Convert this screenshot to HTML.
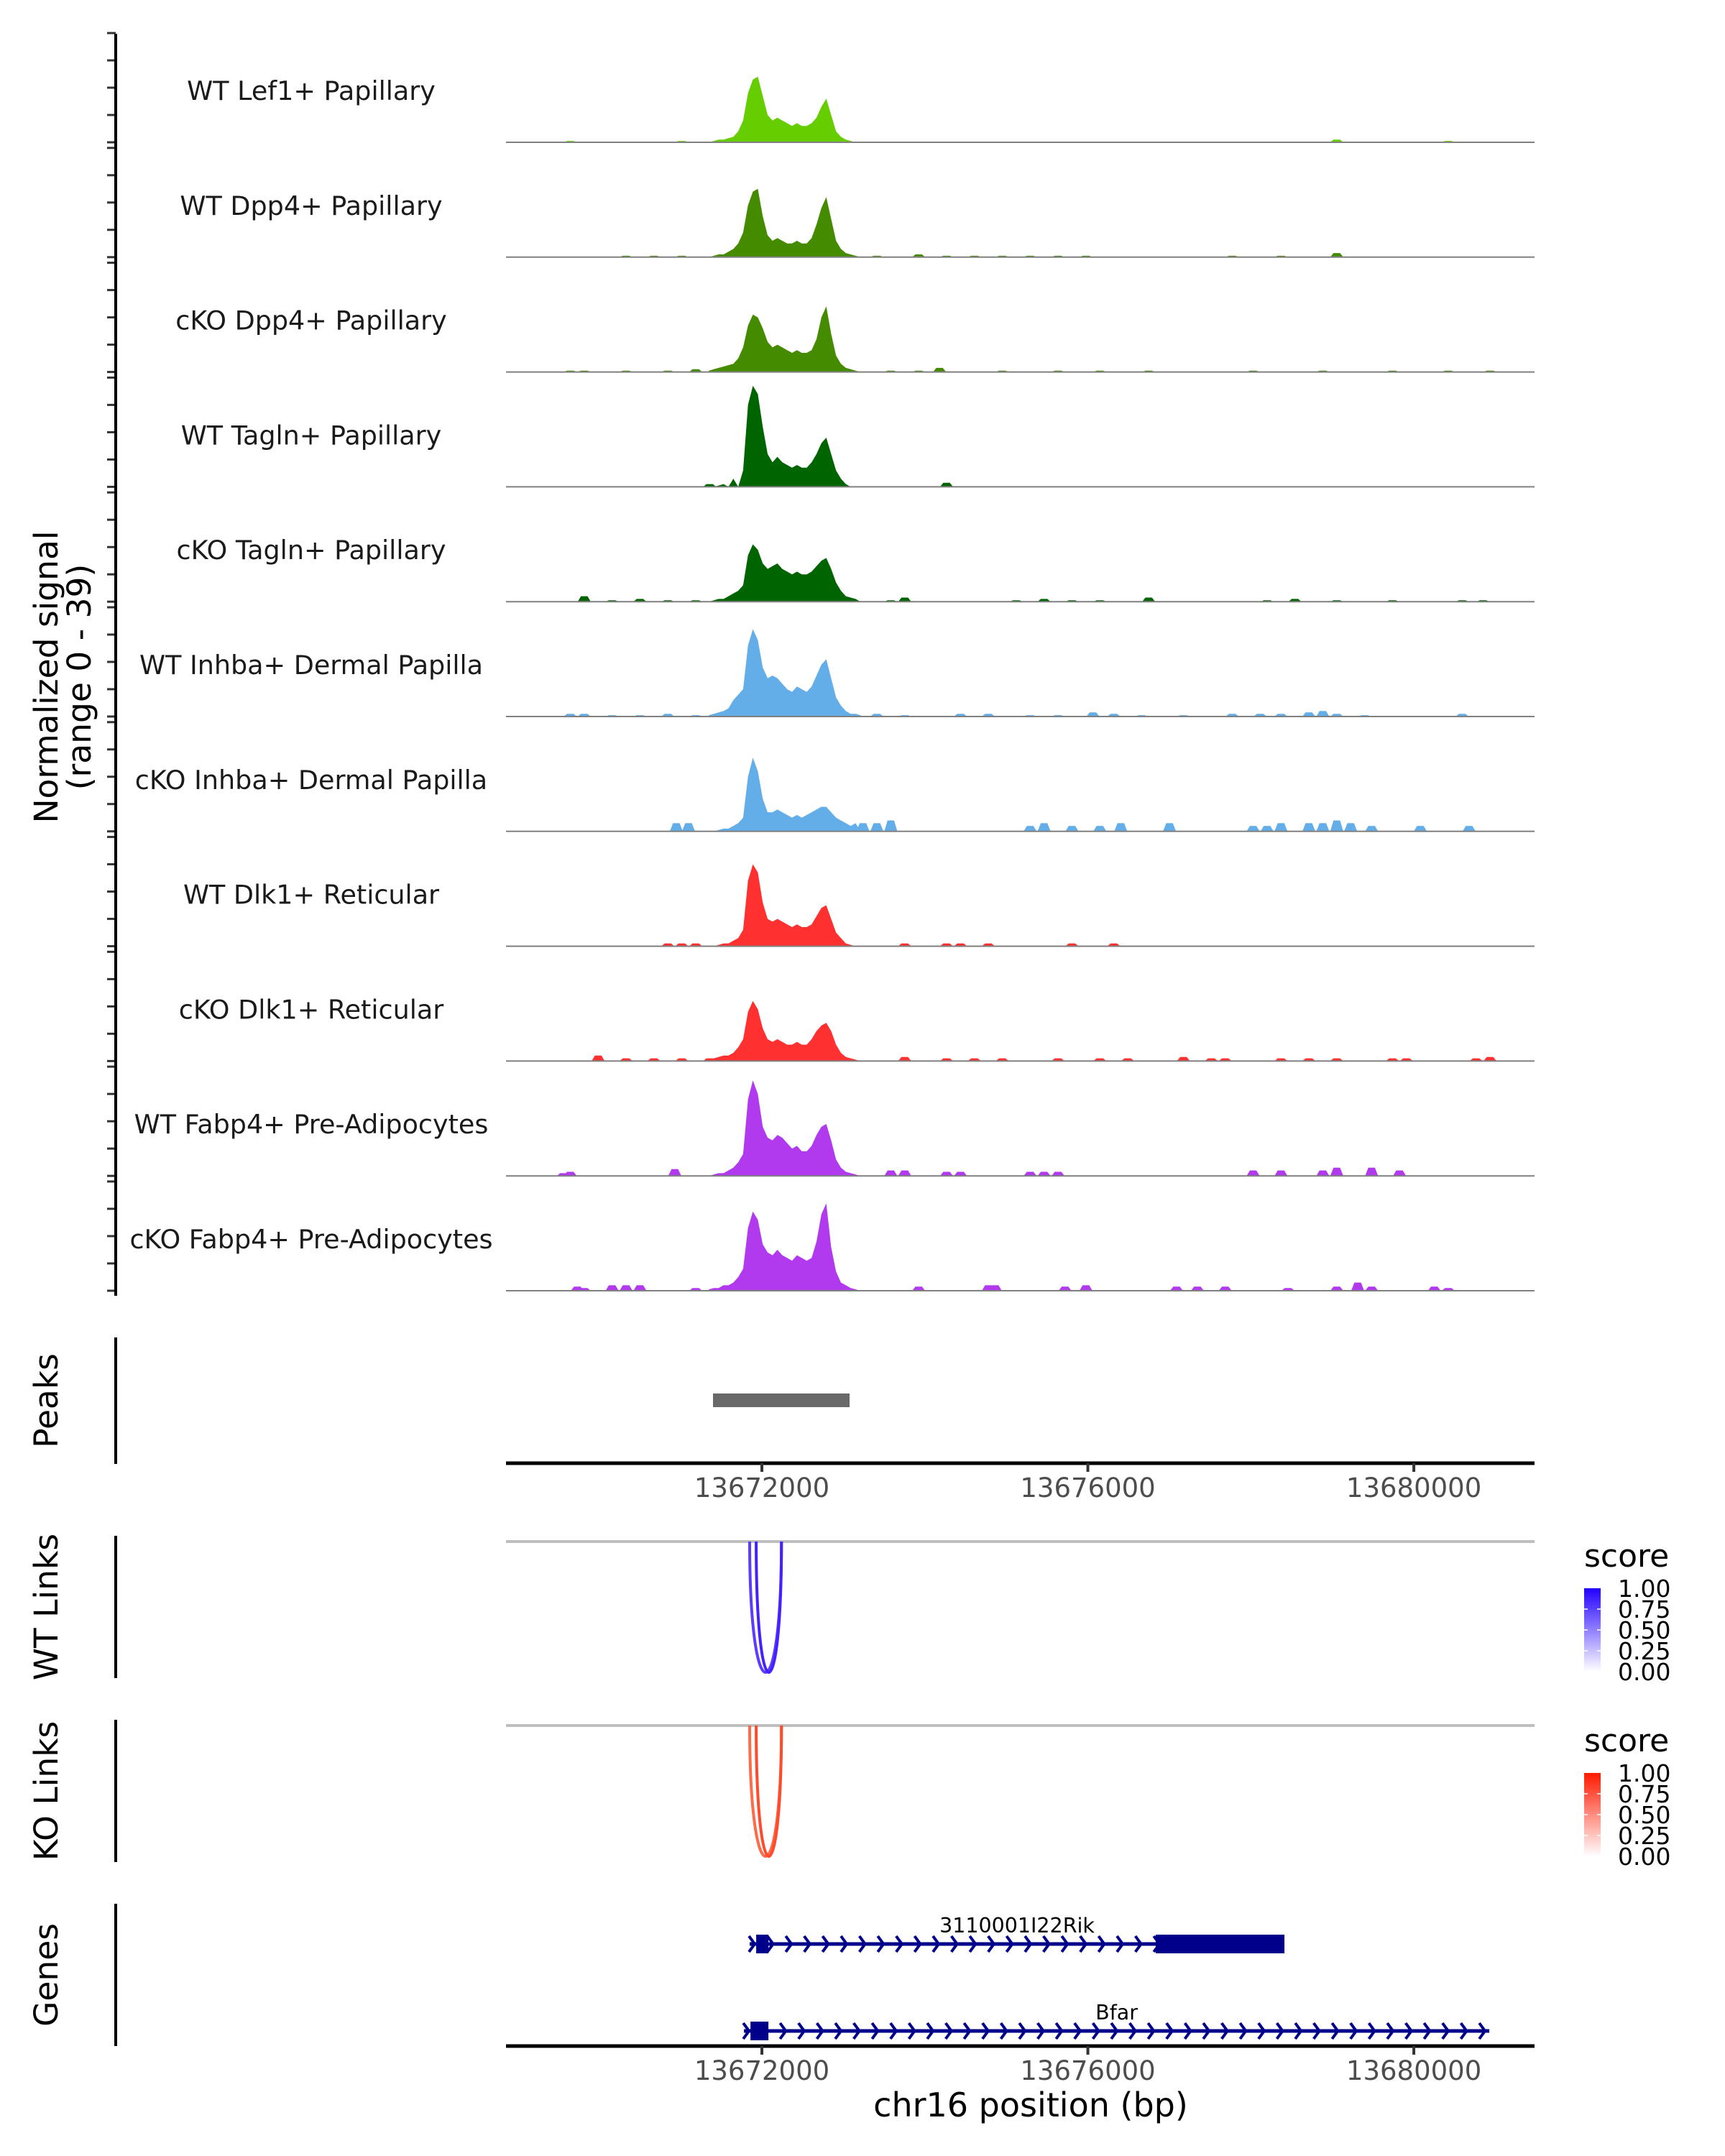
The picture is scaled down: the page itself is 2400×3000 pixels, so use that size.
<!DOCTYPE html>
<html><head><meta charset="utf-8"><style>
html,body{margin:0;padding:0;background:#fff;}
svg{display:block;font-family:"DejaVu Sans","Liberation Sans",sans-serif;}
</style></head><body>
<svg id="chart" width="2400" height="3000" viewBox="0 0 2400 3000" xmlns="http://www.w3.org/2000/svg">
<rect width="2400" height="3000" fill="#fff"/>
</svg>
<script>
// ---------- data ----------
const trackNames = ["WT Lef1+ Papillary","WT Dpp4+ Papillary","cKO Dpp4+ Papillary","WT Tagln+ Papillary","cKO Tagln+ Papillary","WT Inhba+ Dermal Papilla","cKO Inhba+ Dermal Papilla","WT Dlk1+ Reticular","cKO Dlk1+ Reticular","WT Fabp4+ Pre-Adipocytes","cKO Fabp4+ Pre-Adipocytes"];
const trackColors = ["#66cd00","#458b00","#458b00","#006400","#006400","#63ade9","#63ade9","#ff3030","#ff3030","#b23aee","#b23aee"];
const corePositions = [13671350,13671410,13671470,13671530,13671590,13671650,13671710,13671770,13671830,13671890,13671950,13672010,13672070,13672130,13672190,13672250,13672310,13672370,13672430,13672490,13672550,13672610,13672670,13672730,13672790,13672850,13672910,13672970,13673030,13673090,13673150,13673210];
const coreT1 = [0,0.5,1,1,1.5,2,4,8,18,23,24,17,10,8,9,8,7,6,7,6,6,7,9,13,16,10,4,2,1,0.5,0,0];
const coreT2 = [0,0.5,1,1,2,3,5,9,19,24,25,15,8,6,7,6,5,5,6,5,5,7,12,18,22,14,6,3,1.5,1,0.5,0];
const coreT3 = [0.5,1,1.5,2,2.5,3,5,9,17,21,20,16,11,9,10,9,8,7,8,7,7,8,12,20,24,14,6,3,1.5,1,0.5,0];
const coreT4 = [0,0,0.5,1,0,3,0,6,30,37,34,22,12,9,11,9,8,7,8,7,7,9,12,16,18,12,6,3,1,0,0,0];
const coreT5 = [0,0.5,1,1,2,3,4,6,17,21,19,14,12,13,14,12,11,10,11,10,10,11,13,15,16,12,7,4,2,1.5,1,0];
const coreT6 = [0.5,1,1.5,2,3,6,8,10,26,32,28,18,14,15,14,12,10,9,11,10,9,11,15,19,21,14,7,4,2,1,1,0.5];
const coreT7 = [0,0,0.5,1,1,2,3,5,20,27,22,12,7,7,8,7,6,5,6,5,6,7,8,9,9,7,5,4,3,2,3,0];
const coreT8 = [0,0,0.5,1,1,2,3,6,24,30,27,16,10,9,10,9,8,7,8,7,7,8,11,14,15,10,5,3,1,0.5,0,0];
const coreT9 = [0.5,1,1.5,2,2,3,5,8,18,22,19,12,8,7,8,7,6,6,7,6,6,8,11,13,14,11,6,3,1.5,1,0.5,0];
const coreT10 = [0,0.5,1,1,2,3,5,8,28,35,30,18,14,13,15,14,12,10,11,9,9,11,15,18,19,13,6,3,1.5,1,0.5,0];
const coreT11 = [0.5,1,1,2,2,3,5,8,23,29,26,17,14,13,15,13,12,11,13,12,11,12,18,28,32,16,7,3,2,1,0.5,0];
const coreValues = [coreT1,coreT2,coreT3,coreT4,coreT5,coreT6,coreT7,coreT8,coreT9,coreT10,coreT11];
const bumpsT1 = [[13669650,0.5],[13671017,0.5],[13679054,1],[13680422,0.5]];
const bumpsT2 = [[13670333,0.5],[13670675,0.5],[13671017,0.5],[13671701,1],[13673411,0.5],[13673924,1],[13674266,0.5],[13674608,0.5],[13674950,0.5],[13675292,0.5],[13675634,0.5],[13675976,0.5],[13677772,0.5],[13678370,0.5],[13679054,1.5]];
const bumpsT3 = [[13669649,0.5],[13669820,0.5],[13670333,0.5],[13670846,0.5],[13671188,1],[13671530,1],[13673582,0.5],[13673924,0.5],[13674180,1.5],[13674950,0.5],[13675634,0.5],[13676147,0.5],[13676746,0.5],[13678028,0.5],[13678883,0.5],[13679738,0.5],[13680422,0.5],[13680935,0.5]];
const bumpsT4 = [[13671359,1],[13674266,1.5]];
const bumpsT5 = [[13669820,2],[13670162,0.5],[13670504,1],[13670846,0.5],[13671188,0.5],[13673582,0.5],[13673753,1.5],[13675121,0.5],[13675463,1],[13675805,0.5],[13676147,0.5],[13676746,1.5],[13678199,0.5],[13678541,1],[13679054,0.5],[13679738,0.5],[13680593,0.5],[13680849,0.5]];
const bumpsT6 = [[13669649,1],[13669820,1],[13670162,0.5],[13670504,0.5],[13670846,1],[13671188,0.5],[13673411,1],[13673753,0.5],[13674437,1],[13674779,1],[13675292,0.5],[13675634,0.5],[13676062,1.5],[13676318,1],[13676660,0.5],[13677173,0.5],[13677772,1],[13678114,1],[13678370,1],[13678712,1.5],[13678883,2],[13679054,1],[13679396,0.5],[13680593,1]];
const bumpsT7 = [[13670950,3],[13671100,3],[13673240,3],[13673411,3],[13673582,4],[13675292,2],[13675463,3],[13675805,2],[13676147,2],[13676404,3],[13677002,3],[13678028,2],[13678199,2],[13678370,3],[13678712,3],[13678883,3],[13679054,4],[13679225,3],[13679482,2],[13680080,2],[13680678,2]];
const bumpsT8 = [[13670846,1],[13671017,1],[13671188,1],[13673753,1],[13674266,1],[13674437,1],[13674779,1],[13675805,1],[13676318,1]];
const bumpsT9 = [[13669991,2],[13670333,1],[13670675,1],[13671017,1],[13671359,1],[13673753,1.5],[13674266,1],[13674608,1],[13674950,1],[13675634,1],[13676147,1],[13676489,1],[13677173,1.5],[13677515,1],[13677686,1],[13678370,1],[13678712,1],[13679054,1],[13679738,1],[13679909,1],[13680764,1],[13680935,1.5]];
const bumpsT10 = [[13669564,1],[13669649,1.5],[13670931,2.5],[13673582,2],[13673753,2],[13674266,1.5],[13674437,1.5],[13675292,1.5],[13675463,1.5],[13675634,1.5],[13678028,2],[13678370,2],[13678883,2],[13679054,3],[13679482,3],[13679824,2]];
const bumpsT11 = [[13669735,1.5],[13669820,1],[13670162,2],[13670333,2],[13670504,2],[13671188,1],[13673924,1.5],[13674779,2],[13674864,2],[13675720,1.5],[13675976,2],[13677088,1.5],[13677344,1.5],[13677686,1.5],[13678456,1],[13679054,1.5],[13679311,3],[13679482,1.5],[13680251,1.5],[13680422,1]];
const bumpValues = [bumpsT1,bumpsT2,bumpsT3,bumpsT4,bumpsT5,bumpsT6,bumpsT7,bumpsT8,bumpsT9,bumpsT10,bumpsT11];
const yTicks = [0,10,20,30,40];
const xTicks = [13672000,13676000,13680000];
const peakRegions = [[13671400,13673076]];
const wtLinks = [[13671850,13672240],[13671930,13672240]];
const koLinks = [[13671850,13672240],[13671930,13672240]];
const genes = [
  {name:"3110001I22Rik", start:13671850, end:13678412, exons:[[13671930,13672080],[13676833,13678412]], lane:0},
  {name:"Bfar", start:13671780, end:13680926, exons:[[13671860,13672080]], lane:1}
];
const legendTicks = [1.00,0.75,0.50,0.25,0.00];

// ---------- scales ----------
const X0 = 704, X1 = 2135, BP0 = 13668860, BP1 = 13681481;
function xs(bp){ return X0 + (bp - BP0) * (X1 - X0) / (BP1 - BP0); }
const BASE0 = 198, TRACK_STEP = 159.8, UNIT = 3.8;
function ys(i, v){ return BASE0 + i * TRACK_STEP - v * UNIT; }

const svg = document.getElementById('chart');
const NS = "http://www.w3.org/2000/svg";
function mk(tag, attrs, parent){
  const e = document.createElementNS(NS, tag);
  for (const k in attrs) e.setAttribute(k, attrs[k]);
  (parent || svg).appendChild(e);
  return e;
}
function txt(s, attrs, parent){ const e = mk('text', attrs, parent); e.textContent = s; return e; }

// ---------- signal tracks ----------
const gTracks = mk('g', {});


trackNames.forEach((name, i) => {
  const g = mk('g', {}, gTracks);
  
  
  const base = ys(i, 0);
  let d = 'M' + xs(corePositions[0]).toFixed(1) + ',' + base;
  corePositions.forEach((p, k) => { d += ' L' + xs(p).toFixed(1) + ',' + ys(i, coreValues[i][k]).toFixed(1); });
  d += ' L' + xs(corePositions[corePositions.length - 1]).toFixed(1) + ',' + base + ' Z';
  const area = mk('path', {d: d, fill: trackColors[i]}, g);
  
  
  bumpValues[i].forEach(b => {
    const bd = 'M' + xs(b[0] - 80).toFixed(1) + ',' + base + ' L' + xs(b[0] - 40).toFixed(1) + ',' + ys(i, b[1]).toFixed(1) +
      ' L' + xs(b[0] + 40).toFixed(1) + ',' + ys(i, b[1]).toFixed(1) + ' L' + xs(b[0] + 80).toFixed(1) + ',' + base + ' Z';
    const bp = mk('path', {d: bd, fill: trackColors[i]}, g);
    
    
  });
  const bl = mk('line', {x1: X0, x2: X1, y1: base, y2: base, stroke: '#808080', 'stroke-width': 2}, g);
  
  
  const lab = txt(name, {x: 433, y: base - 59, 'text-anchor': 'middle', 'font-size': 36.5, fill: '#1a1a1a'}, g);
  
  
  yTicks.forEach(t => {
    const y = ys(i, t);
    const tk = mk('line', {x1: 149, x2: 161, y1: y, y2: y, stroke: '#333', 'stroke-width': 3}, g);
    
    
  });
});
const yAxis = mk('line', {x1: 161, x2: 161, y1: 47, y2: 1803, stroke: '#000', 'stroke-width': 4});


const yt = mk('text', {transform: 'translate(80,942) rotate(-90)', 'text-anchor': 'middle', 'font-size': 45.5, fill: '#000'});


const ts1 = mk('tspan', {x: 0, dy: 0}, yt); ts1.textContent = 'Normalized signal';
const ts2 = mk('tspan', {x: 0, dy: 46}, yt); ts2.textContent = '(range 0 - 39)';

// ---------- side axis helper ----------
function sideAxis(name, label, y1, y2){
  const l = mk('line', {x1: 161, x2: 161, y1: y1, y2: y2, stroke: '#000', 'stroke-width': 4});
  
  
  const c = (y1 + y2) / 2;
  const t = txt(label, {transform: 'translate(80,' + c + ') rotate(-90)', 'text-anchor': 'middle', 'font-size': 45.5, fill: '#000'});
  
  
}
function xAxis(name, y){
  const l = mk('line', {x1: X0, x2: X1, y1: y, y2: y, stroke: '#000', 'stroke-width': 5});
  
  
  xTicks.forEach(t => {
    const tk = mk('line', {x1: xs(t), x2: xs(t), y1: y, y2: y + 12, stroke: '#333', 'stroke-width': 4});
    
    
    const tl = txt(String(t), {x: xs(t), y: y + 47, 'text-anchor': 'middle', 'font-size': 37, fill: '#4d4d4d'});
    
    
  });
}

// ---------- peaks ----------
sideAxis('peaks', 'Peaks', 1861, 2037);
peakRegions.forEach(p => {
  const r = mk('rect', {x: xs(p[0]), y: 1939, width: xs(p[1]) - xs(p[0]), height: 19, fill: '#696969'});
  
  
});
xAxis('peaks', 2036);

// ---------- links ----------
const defs = mk('defs', {});
function grad(id, col){
  const g = mk('linearGradient', {id: id, x1: 0, y1: 1, x2: 0, y2: 0}, defs);
  mk('stop', {offset: '0', 'stop-color': '#ffffff'}, g);
  mk('stop', {offset: '1', 'stop-color': col}, g);
}
grad('gwt', '#2200ff'); grad('gko', '#ff1a00');
function linkTrack(name, label, axisTop, axisBot, lineY, bottomY, links, colors, gid, legY){
  sideAxis(name, label, axisTop, axisBot);
  const gl = mk('line', {x1: X0, x2: X1, y1: lineY, y2: lineY, stroke: '#bebebe', 'stroke-width': 4});
  
  
  links.forEach((lk, j) => {
    const a = xs(lk[0]), b = xs(lk[1]);
    const cy = lineY + (bottomY - lineY) * 4 / 3;
    const p = mk('path', {d: 'M' + a + ',' + lineY + ' C' + a + ',' + cy + ' ' + b + ',' + cy + ' ' + b + ',' + lineY, fill: 'none', stroke: colors[j], 'stroke-width': 4});
    
    
  });
  const lt = txt('score', {x: 2204, y: legY, 'font-size': 44, fill: '#000'});
  
  
  const top = legY + 30, h = 116;
  const bar = mk('rect', {x: 2204, y: top, width: 23, height: h, fill: 'url(#' + gid + ')'});
  
  
  legendTicks.forEach(v => {
    const y = top + (1 - v) * h;
    if (v > 0 && v < 1) mk('line', {x1: 2204, x2: 2209, y1: y, y2: y, stroke: '#fff', 'stroke-width': 1.5});
    if (v > 0 && v < 1) mk('line', {x1: 2222, x2: 2227, y1: y, y2: y, stroke: '#fff', 'stroke-width': 1.5});
    const t = txt(v.toFixed(2), {x: 2251, y: y + 12, 'font-size': 33, fill: '#000'});
    
    
  });
}
linkTrack('wt-links', 'WT Links', 2137, 2335, 2145, 2327, wtLinks, ['#5c3cff', '#4422ff'], 'gwt', 2180);
linkTrack('ko-links', 'KO Links', 2393, 2591, 2401, 2583, koLinks, ['#ff6a48', '#ff4a2c'], 'gko', 2437);

// ---------- genes ----------
sideAxis('genes', 'Genes', 2649, 2847);
const laneY = [2705, 2826];
genes.forEach(gn => {
  const g = mk('g', {});
  
  
  const y = laneY[gn.lane];
  const a = xs(gn.start), b = xs(gn.end);
  mk('line', {x1: a, x2: b, y1: y, y2: y, stroke: '#00008b', 'stroke-width': 5}, g);
  for (let x = a + 4; x <= b - 4; x += 25.6) {
    mk('polyline', {points: (x - 5) + ',' + (y - 11) + ' ' + (x + 3) + ',' + y + ' ' + (x - 5) + ',' + (y + 11), fill: 'none', stroke: '#00008b', 'stroke-width': 4}, g);
  }
  gn.exons.forEach(e => {
    const r = mk('rect', {x: xs(e[0]), y: y - 13, width: xs(e[1]) - xs(e[0]), height: 26, fill: '#00008b'}, g);
    
    
  });
  const lab = txt(gn.name, {x: (a + b) / 2, y: y - 16, 'text-anchor': 'middle', 'font-size': 28.5, fill: '#000'}, g);
  
  
});
xAxis('genes', 2847);
const xt = txt('chr16 position (bp)', {x: 1434, y: 2945, 'text-anchor': 'middle', 'font-size': 46, fill: '#000'});


</script>
</body></html>
